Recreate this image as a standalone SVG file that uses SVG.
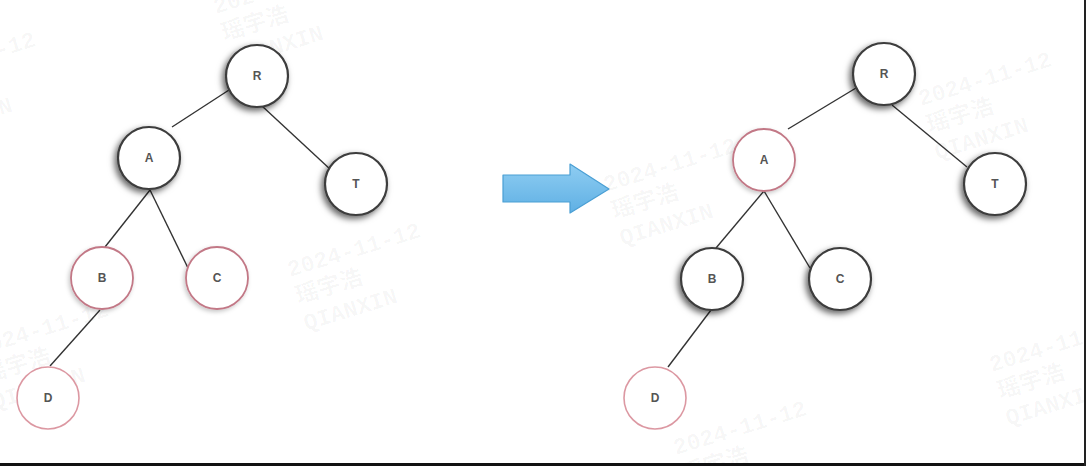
<svg xmlns="http://www.w3.org/2000/svg" width="1086" height="466" viewBox="0 0 1086 466">
  <defs>
    <filter id="shadow" x="-40%" y="-40%" width="180%" height="180%">
      <feDropShadow dx="-2.5" dy="3" stdDeviation="3" flood-color="#000" flood-opacity="0.6"/>
    </filter>
    <filter id="shadowSoft" x="-40%" y="-40%" width="180%" height="180%">
      <feDropShadow dx="-1.5" dy="2" stdDeviation="2.2" flood-color="#000" flood-opacity="0.22"/>
    </filter>
    <linearGradient id="arrowFill" x1="0" y1="0" x2="0" y2="1">
      <stop offset="0" stop-color="#8fcdf2"/>
      <stop offset="1" stop-color="#5fb0e4"/>
    </linearGradient>
    <g id="mark">
      <text x="0" y="0">2024-11-12</text>
      <text x="0" y="28">瑶宇浩</text>
      <text x="0" y="56">QIANXIN</text>
    </g>
  </defs>
  <style>
    .node { fill: #ffffff; stroke: #3c3c3c; stroke-width: 2.2; filter: url(#shadow); }
    .node.hl { stroke: #c27886; stroke-width: 1.8; filter: url(#shadowSoft); }
    .node.new { stroke: #dc98a2; stroke-width: 1.6; filter: none; }
    .label { font-family: "Liberation Sans", Arial, sans-serif; font-size: 12px; font-weight: bold; fill: #555555; text-anchor: middle; dominant-baseline: central; }
    .edge { stroke: #333333; stroke-width: 1.4; fill: none; }
    .wm { font-family: "Liberation Mono", "Noto Sans CJK SC", monospace; font-size: 23px; font-weight: bold; fill: #000; fill-opacity: 0.04; }
  </style>

  <rect width="1086" height="466" fill="#ffffff"/>

  <!-- watermark text tiled across the canvas -->
  <g class="wm">
    <use href="#mark" transform="translate(-95 86) rotate(-17)"/>
    <use href="#mark" transform="translate(216 14) rotate(-17)"/>
    <use href="#mark" transform="translate(290 277) rotate(-17)"/>
    <use href="#mark" transform="translate(606 192) rotate(-17)"/>
    <use href="#mark" transform="translate(921 106) rotate(-17)"/>
    <use href="#mark" transform="translate(-22 356) rotate(-17)"/>
    <use href="#mark" transform="translate(992 372) rotate(-17)"/>
    <use href="#mark" transform="translate(676 455) rotate(-17)"/>
  </g>

  <!-- connectors -->
  <g id="connectors">
    <!-- left tree -->
    <line class="edge" x1="229" y1="90" x2="172" y2="127"/>
    <line class="edge" x1="262" y1="106" x2="331" y2="170"/>
    <line class="edge" x1="150" y1="190" x2="105" y2="247"/>
    <line class="edge" x1="150" y1="190" x2="188" y2="268"/>
    <line class="edge" x1="100" y1="310" x2="50" y2="366"/>
    <!-- right tree -->
    <line class="edge" x1="856" y1="88" x2="788" y2="129"/>
    <line class="edge" x1="892" y1="105" x2="967" y2="167"/>
    <line class="edge" x1="764" y1="191" x2="716" y2="248"/>
    <line class="edge" x1="764" y1="191" x2="810" y2="268"/>
    <line class="edge" x1="711" y1="310" x2="668" y2="367"/>
  </g>

  <!-- left tree nodes -->
  <g id="L-R"><circle class="node" cx="257" cy="76" r="31"/><text class="label" x="257" y="76">R</text></g>
  <g id="L-A"><circle class="node" cx="149" cy="158" r="31"/><text class="label" x="149" y="158">A</text></g>
  <g id="L-T"><circle class="node" cx="356" cy="184" r="31"/><text class="label" x="356" y="184">T</text></g>
  <g id="L-B"><circle class="node hl" cx="102" cy="278" r="31"/><text class="label" x="102" y="278">B</text></g>
  <g id="L-C"><circle class="node hl" cx="217" cy="278" r="31"/><text class="label" x="217" y="278">C</text></g>
  <g id="L-D"><circle class="node new" cx="48" cy="398" r="31"/><text class="label" x="48" y="398">D</text></g>

  <!-- transformation arrow -->
  <g id="arrow">
    <path d="M503 175 L570 175 L570 164 L609 189 L570 213 L570 202 L503 202 Z" fill="url(#arrowFill)" stroke="#4a9fd4" stroke-width="1.2" stroke-linejoin="round"/>
  </g>

  <!-- right tree nodes -->
  <g id="R-R"><circle class="node" cx="884" cy="74" r="31"/><text class="label" x="884" y="74">R</text></g>
  <g id="R-A"><circle class="node hl" cx="764" cy="160" r="31"/><text class="label" x="764" y="160">A</text></g>
  <g id="R-T"><circle class="node" cx="995" cy="184" r="31"/><text class="label" x="995" y="184">T</text></g>
  <g id="R-B"><circle class="node" cx="712" cy="279" r="31"/><text class="label" x="712" y="279">B</text></g>
  <g id="R-C"><circle class="node" cx="840" cy="279" r="31"/><text class="label" x="840" y="279">C</text></g>
  <g id="R-D"><circle class="node new" cx="655" cy="398" r="31"/><text class="label" x="655" y="398">D</text></g>

  <!-- frame edges -->
  <rect x="0" y="463" width="1086" height="3" fill="#111"/>
  <rect x="1084" y="0" width="2" height="466" fill="#222"/>
</svg>
